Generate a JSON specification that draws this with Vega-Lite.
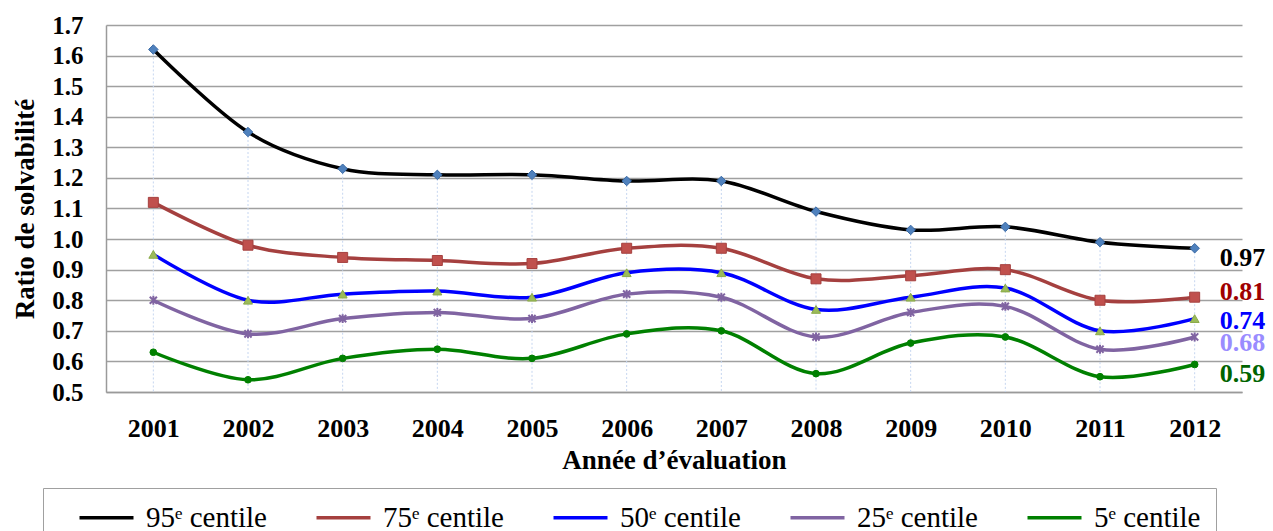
{
  "$schema": "https://vega.github.io/schema/vega-lite/v6.json",
  "autosize": "none",
  "width": 1136,
  "height": 367,
  "padding": {"left": 106, "top": 25, "right": 31, "bottom": 139},
  "background": "#ffffff",
  "config": {
    "font": "Liberation Serif",
    "view": {"stroke": null},
    "axis": {"labelFont": "Liberation Serif", "titleFont": "Liberation Serif"}
  },
  "data": {
    "values": [
      {"year": "2001", "series": "95ᵉ centile", "value": 1.62},
      {"year": "2002", "series": "95ᵉ centile", "value": 1.35},
      {"year": "2003", "series": "95ᵉ centile", "value": 1.23},
      {"year": "2004", "series": "95ᵉ centile", "value": 1.21},
      {"year": "2005", "series": "95ᵉ centile", "value": 1.21},
      {"year": "2006", "series": "95ᵉ centile", "value": 1.19},
      {"year": "2007", "series": "95ᵉ centile", "value": 1.19},
      {"year": "2008", "series": "95ᵉ centile", "value": 1.09},
      {"year": "2009", "series": "95ᵉ centile", "value": 1.03},
      {"year": "2010", "series": "95ᵉ centile", "value": 1.04},
      {"year": "2011", "series": "95ᵉ centile", "value": 0.99},
      {"year": "2012", "series": "95ᵉ centile", "value": 0.97},
      {"year": "2001", "series": "75ᵉ centile", "value": 1.12},
      {"year": "2002", "series": "75ᵉ centile", "value": 0.98},
      {"year": "2003", "series": "75ᵉ centile", "value": 0.94},
      {"year": "2004", "series": "75ᵉ centile", "value": 0.93},
      {"year": "2005", "series": "75ᵉ centile", "value": 0.92},
      {"year": "2006", "series": "75ᵉ centile", "value": 0.97},
      {"year": "2007", "series": "75ᵉ centile", "value": 0.97},
      {"year": "2008", "series": "75ᵉ centile", "value": 0.87},
      {"year": "2009", "series": "75ᵉ centile", "value": 0.88},
      {"year": "2010", "series": "75ᵉ centile", "value": 0.90},
      {"year": "2011", "series": "75ᵉ centile", "value": 0.80},
      {"year": "2012", "series": "75ᵉ centile", "value": 0.81},
      {"year": "2001", "series": "50ᵉ centile", "value": 0.95},
      {"year": "2002", "series": "50ᵉ centile", "value": 0.80},
      {"year": "2003", "series": "50ᵉ centile", "value": 0.82},
      {"year": "2004", "series": "50ᵉ centile", "value": 0.83},
      {"year": "2005", "series": "50ᵉ centile", "value": 0.81},
      {"year": "2006", "series": "50ᵉ centile", "value": 0.89},
      {"year": "2007", "series": "50ᵉ centile", "value": 0.89},
      {"year": "2008", "series": "50ᵉ centile", "value": 0.77},
      {"year": "2009", "series": "50ᵉ centile", "value": 0.81},
      {"year": "2010", "series": "50ᵉ centile", "value": 0.84},
      {"year": "2011", "series": "50ᵉ centile", "value": 0.70},
      {"year": "2012", "series": "50ᵉ centile", "value": 0.74},
      {"year": "2001", "series": "25ᵉ centile", "value": 0.80},
      {"year": "2002", "series": "25ᵉ centile", "value": 0.69},
      {"year": "2003", "series": "25ᵉ centile", "value": 0.74},
      {"year": "2004", "series": "25ᵉ centile", "value": 0.76},
      {"year": "2005", "series": "25ᵉ centile", "value": 0.74},
      {"year": "2006", "series": "25ᵉ centile", "value": 0.82},
      {"year": "2007", "series": "25ᵉ centile", "value": 0.81},
      {"year": "2008", "series": "25ᵉ centile", "value": 0.68},
      {"year": "2009", "series": "25ᵉ centile", "value": 0.76},
      {"year": "2010", "series": "25ᵉ centile", "value": 0.78},
      {"year": "2011", "series": "25ᵉ centile", "value": 0.64},
      {"year": "2012", "series": "25ᵉ centile", "value": 0.68},
      {"year": "2001", "series": "5ᵉ centile", "value": 0.63},
      {"year": "2002", "series": "5ᵉ centile", "value": 0.54},
      {"year": "2003", "series": "5ᵉ centile", "value": 0.61},
      {"year": "2004", "series": "5ᵉ centile", "value": 0.64},
      {"year": "2005", "series": "5ᵉ centile", "value": 0.61},
      {"year": "2006", "series": "5ᵉ centile", "value": 0.69},
      {"year": "2007", "series": "5ᵉ centile", "value": 0.70},
      {"year": "2008", "series": "5ᵉ centile", "value": 0.56},
      {"year": "2009", "series": "5ᵉ centile", "value": 0.66},
      {"year": "2010", "series": "5ᵉ centile", "value": 0.68},
      {"year": "2011", "series": "5ᵉ centile", "value": 0.55},
      {"year": "2012", "series": "5ᵉ centile", "value": 0.59}
    ]
  },
  "encoding": {
    "x": {
      "field": "year",
      "type": "ordinal",
      "scale": {"type": "point", "padding": 0.5},
      "axis": {
        "title": "Année d’évaluation",
        "titleFontSize": 27,
        "titleFontWeight": "bold",
        "titleColor": "#000000",
        "titlePadding": 6,
        "labelAngle": 0,
        "labelFontSize": 26,
        "labelFontWeight": "bold",
        "labelColor": "#000000",
        "labelPadding": 23,
        "ticks": false,
        "domain": true,
        "domainColor": "#9a9a9a",
        "domainWidth": 1.5,
        "grid": false
      }
    },
    "y": {
      "field": "value",
      "type": "quantitative",
      "scale": {"domain": [0.5, 1.7], "nice": false, "zero": false},
      "axis": {
        "title": "Ratio de solvabilité",
        "titleFontSize": 27,
        "titleFontWeight": "bold",
        "titleColor": "#000000",
        "titlePadding": 12,
        "values": [0.5, 0.6, 0.7, 0.8, 0.9, 1.0, 1.1, 1.2, 1.3, 1.4, 1.5, 1.6, 1.7],
        "format": ".1f",
        "labelFontSize": 25,
        "labelFontWeight": "bold",
        "labelColor": "#000000",
        "labelPadding": 23,
        "ticks": false,
        "domain": true,
        "domainColor": "#9a9a9a",
        "domainWidth": 1.5,
        "grid": true,
        "gridColor": "#a0a0a0",
        "gridWidth": 1.5
      }
    }
  },
  "layer": [
    {
      "transform": [
        {"aggregate": [{"op": "max", "field": "value", "as": "top"}], "groupby": ["year"]}
      ],
      "mark": {"type": "rule", "color": "#c6d6f0", "strokeWidth": 1, "strokeDash": [2, 2]},
      "encoding": {
        "y": {"field": "top", "type": "quantitative"},
        "y2": {"datum": 0.5}
      }
    },
    {
      "mark": {"type": "line", "interpolate": "cardinal", "tension": 0, "strokeWidth": 3.5},
      "encoding": {
        "color": {
          "field": "series",
          "type": "nominal",
          "scale": {
            "domain": ["95ᵉ centile", "75ᵉ centile", "50ᵉ centile", "25ᵉ centile", "5ᵉ centile"],
            "range": ["#000000", "#a5403f", "#0000ff", "#8064a2", "#008000"]
          },
          "legend": {
            "title": null,
            "orient": "none",
            "legendX": -63,
            "legendY": 463,
            "direction": "horizontal",
            "columns": 5,
            "symbolType": "M-3,0L3,0",
            "symbolSize": 324,
            "symbolOffset": 34,
            "symbolStrokeWidth": 3.5,
            "labelFont": "Liberation Serif",
            "labelFontSize": 29,
            "labelColor": "#000000",
            "labelOffset": 25,
            "labelLimit": 300,
            "columnPadding": 28,
            "padding": 15,
            "strokeColor": "#a0a0a0",
            "fillColor": "#ffffff"
          }
        }
      }
    },
    {
      "transform": [{"filter": "datum.series == '95ᵉ centile'"}],
      "mark": {"type": "point", "shape": "diamond", "filled": true, "size": 90, "fill": "#4f81bd", "stroke": "#3a6aa5", "strokeWidth": 1, "opacity": 1}
    },
    {
      "transform": [{"filter": "datum.series == '75ᵉ centile'"}],
      "mark": {"type": "point", "shape": "square", "filled": true, "size": 100, "fill": "#c0504d", "stroke": "#a5403f", "strokeWidth": 1, "opacity": 1}
    },
    {
      "transform": [{"filter": "datum.series == '50ᵉ centile'"}],
      "mark": {"type": "point", "shape": "triangle-up", "filled": true, "size": 80, "fill": "#9bbb59", "stroke": "#8aaa48", "strokeWidth": 1, "opacity": 1}
    },
    {
      "transform": [{"filter": "datum.series == '25ᵉ centile'"}],
      "mark": {"type": "point", "shape": "M-0.8,-0.8L0.8,0.8M0.8,-0.8L-0.8,0.8M0,-1L0,1", "filled": false, "size": 80, "stroke": "#8064a2", "strokeWidth": 2, "opacity": 1}
    },
    {
      "transform": [{"filter": "datum.series == '5ᵉ centile'"}],
      "mark": {"type": "point", "shape": "circle", "filled": true, "size": 45, "fill": "#008000", "stroke": "#008000", "strokeWidth": 1, "opacity": 1}
    },
    {
      "transform": [{"filter": "datum.year == '2012' && datum.series == '95ᵉ centile'"}],
      "mark": {"type": "text", "align": "left", "baseline": "middle", "dx": 25, "dy": 10, "fontSize": 26, "fontWeight": "bold", "font": "Liberation Serif", "color": "#000000"},
      "encoding": {"text": {"field": "value", "type": "quantitative", "format": ".2f"}}
    },
    {
      "transform": [{"filter": "datum.year == '2012' && datum.series == '75ᵉ centile'"}],
      "mark": {"type": "text", "align": "left", "baseline": "middle", "dx": 25, "dy": -5, "fontSize": 26, "fontWeight": "bold", "font": "Liberation Serif", "color": "#a00000"},
      "encoding": {"text": {"field": "value", "type": "quantitative", "format": ".2f"}}
    },
    {
      "transform": [{"filter": "datum.year == '2012' && datum.series == '50ᵉ centile'"}],
      "mark": {"type": "text", "align": "left", "baseline": "middle", "dx": 25, "dy": 2, "fontSize": 26, "fontWeight": "bold", "font": "Liberation Serif", "color": "#0000ff"},
      "encoding": {"text": {"field": "value", "type": "quantitative", "format": ".2f"}}
    },
    {
      "transform": [{"filter": "datum.year == '2012' && datum.series == '25ᵉ centile'"}],
      "mark": {"type": "text", "align": "left", "baseline": "middle", "dx": 25, "dy": 6, "fontSize": 26, "fontWeight": "bold", "font": "Liberation Serif", "color": "#9a8cff"},
      "encoding": {"text": {"field": "value", "type": "quantitative", "format": ".2f"}}
    },
    {
      "transform": [{"filter": "datum.year == '2012' && datum.series == '5ᵉ centile'"}],
      "mark": {"type": "text", "align": "left", "baseline": "middle", "dx": 25, "dy": 10, "fontSize": 26, "fontWeight": "bold", "font": "Liberation Serif", "color": "#006400"},
      "encoding": {"text": {"field": "value", "type": "quantitative", "format": ".2f"}}
    }
  ]
}
